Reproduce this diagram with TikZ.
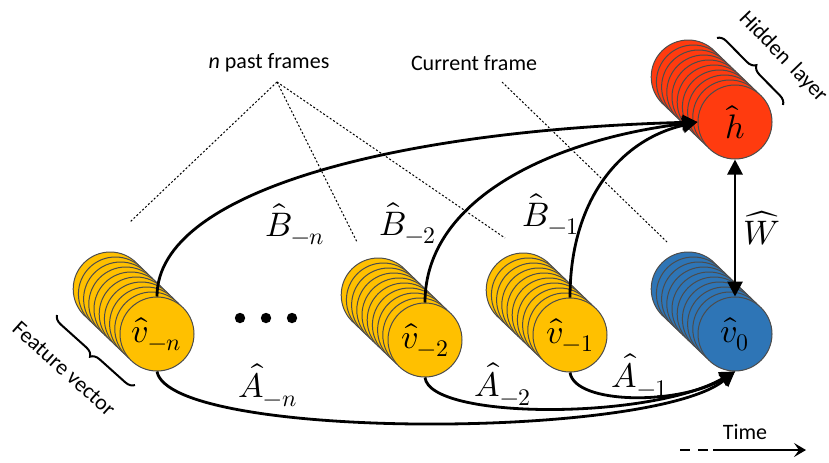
\documentclass[tikz,border=0pt]{standalone}
\usepackage{amsmath}
\usepackage{fontspec}
\usepackage{unicode-math}
\setmainfont{Carlito}
\setmathfont{Latin Modern Math}
\usetikzlibrary{arrows.meta,decorations.pathreplacing}
\definecolor{featyellow}{RGB}{255,192,0}
\definecolor{curblue}{RGB}{46,117,182}
\definecolor{hidred}{RGB}{255,59,15}

\begin{document}
\begin{tikzpicture}[x=0.5pt, y=-0.5pt, >={Triangle[length=7.5pt,width=7.5pt]}, line width=1.4pt,
    disc/.style={draw=black!70, line width=0.5pt},
    unit/.style={disc, circle, minimum size=37pt, inner sep=0pt, font=\fontsize{17}{20}\selectfont},
    lbl/.style={font=\fontsize{17}{20}\selectfont},
    txt/.style={font=\fontsize{11}{13}\selectfont},
    guide/.style={line width=0.5pt, dash pattern=on 1pt off 1pt},
    brc/.style={decorate, decoration={brace, amplitude=4.5pt}, line width=1pt}]
    \useasboundingbox (0,0) rectangle (829,462);
    % pilas de neuronas (circulos de atras)
    \foreach \x/\y/\c in {157/334/featyellow, 425/340/featyellow, 570/335/featyellow,
                          735/334/curblue, 735/122/hidred}
        \foreach \k in {9,...,1}
            \draw[disc,fill=\c] (\x-5.2*\k,\y-5*\k) circle[radius=18.5pt];
    % circulos de delante
    \node[unit,fill=featyellow] (vn) at (157,334) {$\hat{v}_{-n}$};
    \node[unit,fill=featyellow] (v2) at (425,340) {$\hat{v}_{-2}$};
    \node[unit,fill=featyellow] (v1) at (570,335) {$\hat{v}_{-1}$};
    \node[unit,fill=curblue] (v0) at (735,334) {$\hat{v}_{0}$};
    \node[unit,fill=hidred] (h) at (735,122) {$\hat{h}$};
    % puntos suspensivos
    \foreach \x in {240,266,292} \fill (\x,318) circle[radius=2.6pt];
    % conexiones B hacia la capa oculta
    \draw[->] (vn.north) .. controls (157,190) and (400,130) .. (h.west);
    \draw[->] (v2.north) .. controls (425,200) and (550,140) .. (h.west);
    \draw[->] (v1.north) .. controls (570,200) and (620,140) .. (h.west);
    \draw[<->] (h.south) -- (v0.north);
    % conexiones A hacia el cuadro actual
    \draw[->] (vn.south) .. controls (170,440) and (650,440) .. (v0.south);
    \draw[->] (v2.south) .. controls (430,420) and (650,420) .. (v0.south);
    \draw[->] (v1.south) .. controls (575,405) and (680,405) .. (v0.south);
    % etiquetas
    \node[lbl] (bn) at (295,224) {$\hat{B}_{-n}$};
    \node[lbl] (b2) at (408,223) {$\hat{B}_{-2}$};
    \node[lbl] (b1) at (551,214) {$\hat{B}_{-1}$};
    \node[lbl] (an) at (268,385) {$\hat{A}_{-n}$};
    \node[lbl] (a2) at (503,384) {$\hat{A}_{-2}$};
    \node[lbl] (a1) at (640,375) {$\hat{A}_{-1}$};
    \node[lbl] (w) at (762,228) {$\widehat{W}$};
    % textos y lineas guia
    \node[txt] (past) at (269,63) {\textit{n} past frames};
    \node[txt] (cur) at (474,63) {Current frame};
    \coordinate (pasttip) at (277,82);
    \coordinate (curtip) at (502,82);
    \coordinate (g1) at (130,222);
    \coordinate (g2) at (357,242);
    \coordinate (g3) at (505,238);
    \coordinate (g4) at (667,242);
    \draw[guide] (pasttip) -- (g1);
    \draw[guide] (pasttip) -- (g2);
    \draw[guide] (pasttip) -- (g3);
    \draw[guide] (curtip) -- (g4);
    % llaves
    \coordinate (hb1) at (717,38); \coordinate (hb2) at (783,105);
    \draw[brc] (hb1) -- (hb2);
    \node[txt,rotate=-46] (hidtxt) at (783,57) {Hidden \,layer};
    \coordinate (fb1) at (135,385); \coordinate (fb2) at (57,315);
    \draw[brc] (fb1) -- (fb2);
    \node[txt,rotate=-42] (feattxt) at (64,369) {Feature vector};
    % eje del tiempo
    \coordinate (t0) at (680,450); \coordinate (t1) at (708,450);
    \coordinate (t2) at (713,450); \coordinate (t3) at (806,450);
    \draw[line width=1pt,dash pattern=on 5pt off 4pt] (t0) -- (t1);
    \draw[line width=1pt,-{Stealth[length=6pt,width=7pt,inset=2.5pt]}] (t2) -- (t3);
    \node[txt] (timetxt) at (745,432) {Time};
\end{tikzpicture}
\end{document}
